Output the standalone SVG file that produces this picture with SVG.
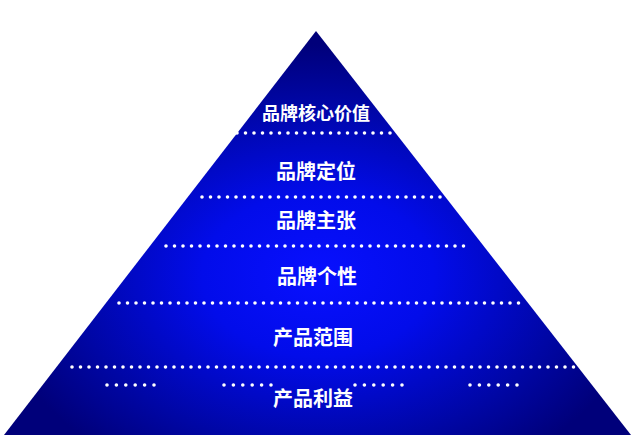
<svg xmlns="http://www.w3.org/2000/svg" width="636" height="440" viewBox="0 0 636 440">
<defs>
<radialGradient id="g" gradientUnits="userSpaceOnUse" cx="318" cy="275" r="330" gradientTransform="translate(318 275) scale(1 0.7) translate(-318 -275)">
<stop offset="0" stop-color="#0810ff"/>
<stop offset="0.35" stop-color="#020cea"/>
<stop offset="0.75" stop-color="#0006a4"/>
<stop offset="1" stop-color="#00007a"/>
</radialGradient>
<style>
.dot{stroke:#ffffff;stroke-width:3.6;stroke-linecap:round;stroke-dasharray:0 8.5;fill:none}
.sdot{stroke:#ffffff;stroke-width:3.6;stroke-linecap:round;stroke-dasharray:0 9.4;fill:none}
.t{font-family:"Noto Sans CJK SC","Liberation Sans",sans-serif;font-weight:bold;fill:#ffffff;text-anchor:middle;font-size:20px}
</style>
</defs>
<rect width="636" height="440" fill="#ffffff"/>
<g id="pyramid">
<polygon points="316,31 4,435 631,435" fill="url(#g)"/>
</g>
<g id="connectors">
<line class="dot" x1="237" y1="133" x2="392.5" y2="133"/>
<line class="dot" x1="202" y1="197" x2="448.5" y2="197"/>
<line class="dot" x1="166" y1="246" x2="466.5" y2="246"/>
<line class="dot" x1="119" y1="303" x2="525.5" y2="303"/>
<line class="dot" x1="72" y1="367" x2="579.5" y2="367"/>
<line class="sdot" x1="107" y1="385" x2="154.5" y2="385"/>
<line class="sdot" x1="224" y1="385" x2="271.5" y2="385"/>
<line class="sdot" x1="355" y1="385" x2="402.5" y2="385"/>
<line class="sdot" x1="470" y1="385" x2="517.5" y2="385"/>
</g>
<g id="n1"><text class="t" x="316" y="120" style="font-size:18px">品牌核心价值</text></g>
<g id="n2"><text class="t" x="316" y="179">品牌定位</text></g>
<g id="n3"><text class="t" x="316" y="228">品牌主张</text></g>
<g id="n4"><text class="t" x="317" y="284">品牌个性</text></g>
<g id="n5"><text class="t" x="313" y="345">产品范围</text></g>
<g id="n6"><text class="t" x="313" y="406">产品利益</text></g>
</svg>
